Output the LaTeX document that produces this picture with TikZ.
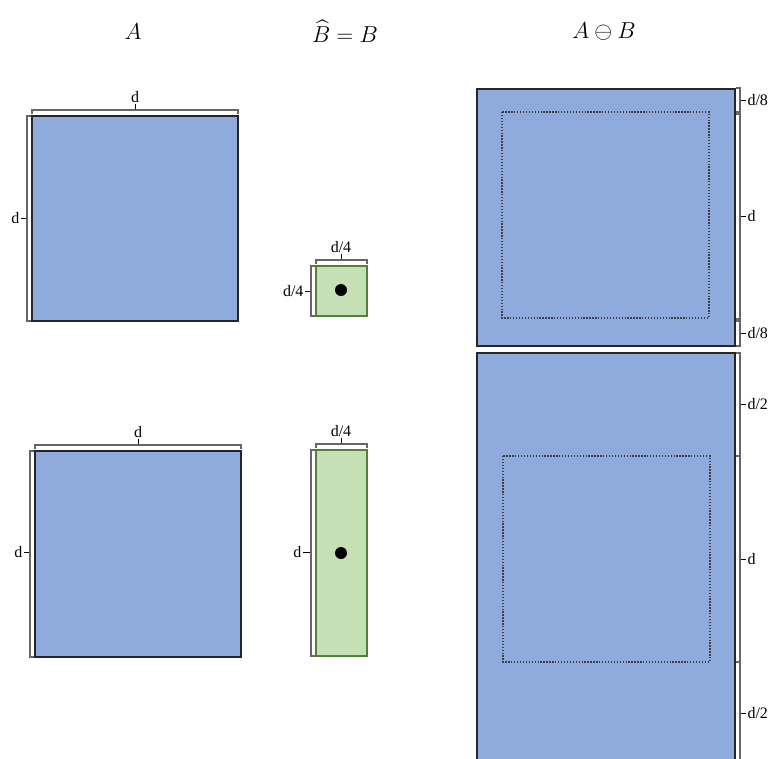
\documentclass[tikz,border=0pt]{standalone}
\usepackage{amsmath,amssymb}
\usepackage{fontspec}
\setmainfont{Liberation Serif}
\usepackage{tikz}
\usetikzlibrary{positioning}

\definecolor{setblue}{HTML}{8FAADC}
\definecolor{strucgreen}{HTML}{C5E0B4}
\definecolor{strucedge}{HTML}{548235}

\begin{document}
\begin{tikzpicture}[x=0.75pt, y=-0.75pt,
        setbox/.style={draw=black!85, fill=setblue, line width=1.2pt},
        strucbox/.style={draw=strucedge, fill=strucgreen, line width=1pt},
        core/.style={draw=black!75, line width=1pt, dash pattern=on 1pt off 1.2pt},
        dimbar/.style={draw=black!60, line width=1.1pt},
        tick/.style={draw=black, line width=0.7pt},
        dimlabel/.style={font=\fontsize{12}{14}\selectfont, inner sep=0.8pt},
        title/.style={font=\fontsize{17}{20}\selectfont}]

    \useasboundingbox (0,0) rectangle (772,758);
    \clip (0,0) rectangle (772,758);

    % titles
    \node[title] (tA) at (133,32) {$A$};
    \node[title] (tB) at (345,31) {$\widehat{B} = B$};
    \node[title] (tE) at (604,32) {$A \ominus B$};

    % set A and structuring element B, first row
    \draw[setbox] (32,116) rectangle (238,321);
    \draw[dimbar] (32,114) -- (32,110) -- (238,110) -- (238,114);
    \draw[tick] (135,109) -- (135,104) node[dimlabel, above] (aTopW) {d};
    \draw[dimbar] (31,116) -- (27,116) -- (27,321) -- (31,321);
    \draw[tick] (26,218) -- (21,218) node[dimlabel, left] (aTopH) {d};

    \draw[strucbox] (316,266) rectangle (367,316);
    \fill (341,290) circle (4.5pt);
    \draw[dimbar] (316,264) -- (316,260) -- (367,260) -- (367,264);
    \draw[tick] (341,259) -- (341,254) node[dimlabel, above] (bTopW) {d/4};
    \draw[dimbar] (315,266) -- (311,266) -- (311,316) -- (315,316);
    \draw[tick] (310,291) -- (305,291) node[dimlabel, left] (bTopH) {d/4};

    % set A and structuring element B, second row
    \draw[setbox] (35,451) rectangle (241,657);
    \draw[dimbar] (35,449) -- (35,445) -- (241,445) -- (241,449);
    \draw[tick] (138,444) -- (138,439) node[dimlabel, above] (aBotW) {d};
    \draw[dimbar] (34,451) -- (30,451) -- (30,657) -- (34,657);
    \draw[tick] (29,552) -- (24,552) node[dimlabel, left] (aBotH) {d};

    \draw[strucbox] (316,450) rectangle (367,656);
    \fill (341,553) circle (4.5pt);
    \draw[dimbar] (316,448) -- (316,444) -- (367,444) -- (367,448);
    \draw[tick] (341,443) -- (341,438) node[dimlabel, above] (bBotW) {d/4};
    \draw[dimbar] (315,450) -- (311,450) -- (311,656) -- (315,656);
    \draw[tick] (310,552) -- (303,552) node[dimlabel, left] (bBotH) {d};

    % erosion results
    \draw[setbox] (477,89) rectangle (735,346);
    \draw[core] (502,112) rectangle (709,318);
    \foreach \ya/\yb/\lab in {88/112/d\slash 8, 114/319/d, 321/346/d\slash 8}{
        \draw[dimbar] (736,\ya) -- (740,\ya) -- (740,\yb) -- (736,\yb);
        \draw[tick] (741,{(\ya+\yb)/2}) -- ++(5,0) node[dimlabel, right] {\lab};
    }

    \draw[setbox] (477,353) rectangle (735,765);
    \draw[core] (503,456) rectangle (710,662);
    \foreach \ya/\yb/\lab in {353/456/d\slash 2, 456/662/d, 662/765/d\slash 2}{
        \draw[dimbar] (736,\ya) -- (740,\ya) -- (740,\yb) -- (736,\yb);
        \draw[tick] (741,{(\ya+\yb)/2}) -- ++(5,0) node[dimlabel, right] {\lab};
    }
\end{tikzpicture}
\end{document}
